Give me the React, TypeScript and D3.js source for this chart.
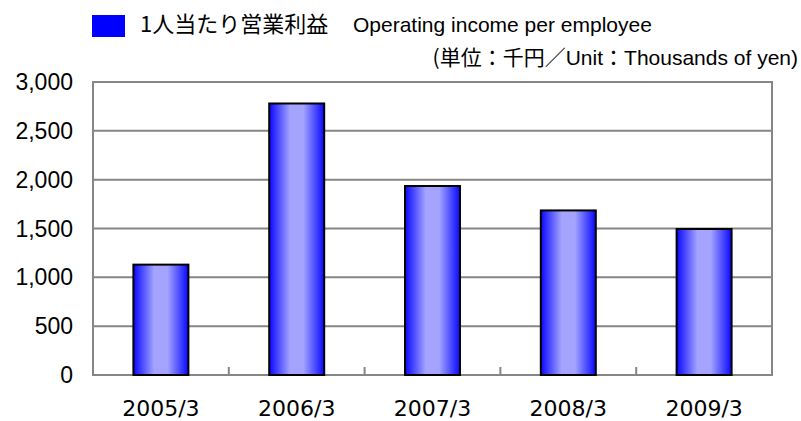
import React, { useEffect, useRef } from "react";
import * as d3 from "d3";

const categories = ["2005/3", "2006/3", "2007/3", "2008/3", "2009/3"];
const values = [1130, 2780, 1935, 1685, 1495];
const yTicks = [0, 500, 1000, 1500, 2000, 2500, 3000];

const W = 801;
const H = 421;
const margin = { top: 82, right: 29, bottom: 46, left: 93 };
const jp = "Noto Sans CJK JP, sans-serif";
const latin = "Liberation Sans, Arial, sans-serif";

const App = () => {
  const svgRef = useRef<SVGSVGElement>(null);

  useEffect(() => {
    const svg = d3.select(svgRef.current);
    svg.selectAll("*").remove();

    const width = W - margin.left - margin.right;
    const height = H - margin.top - margin.bottom;

    // bar gradient: blue edges, pale centre
    const grad = svg
      .append("defs")
      .append("linearGradient")
      .attr("id", "barGrad")
      .attr("x1", "0%")
      .attr("x2", "100%");
    grad.append("stop").attr("offset", "0%").attr("stop-color", "#0808ff");
    grad.append("stop").attr("offset", "38%").attr("stop-color", "#a4a4ff");
    grad.append("stop").attr("offset", "62%").attr("stop-color", "#a4a4ff");
    grad.append("stop").attr("offset", "100%").attr("stop-color", "#0808ff");

    const p = 1 - 55 / (width / categories.length);
    const x = d3
      .scaleBand()
      .domain(categories)
      .range([0, width])
      .paddingInner(p)
      .paddingOuter(p / 2);
    const y = d3.scaleLinear().domain([0, 3000]).range([height, 0]);

    const g = svg
      .append("g")
      .attr("transform", `translate(${margin.left},${margin.top})`);

    // gridlines
    g.selectAll(".grid")
      .data(yTicks)
      .enter()
      .append("line")
      .attr("x1", 0)
      .attr("x2", width)
      .attr("y1", (d) => y(d))
      .attr("y2", (d) => y(d))
      .attr("stroke", "#868686")
      .attr("stroke-width", 2);

    // plot frame
    g.append("rect")
      .attr("width", width)
      .attr("height", height)
      .attr("fill", "none")
      .attr("stroke", "#868686")
      .attr("stroke-width", 2);

    // category boundary ticks
    const step = x.step();
    g.selectAll(".tick")
      .data(categories.slice(1))
      .enter()
      .append("line")
      .attr("x1", (_, i) => (i + 1) * step)
      .attr("x2", (_, i) => (i + 1) * step)
      .attr("y1", height)
      .attr("y2", height - 8)
      .attr("stroke", "#868686")
      .attr("stroke-width", 2);

    // bars
    g.selectAll(".bar")
      .data(values)
      .enter()
      .append("rect")
      .attr("x", (_, i) => x(categories[i]) as number)
      .attr("width", x.bandwidth())
      .attr("y", (d) => y(d))
      .attr("height", (d) => height - y(d))
      .attr("fill", "url(#barGrad)")
      .attr("stroke", "#000")
      .attr("stroke-width", 2);

    // y labels
    g.selectAll(".ylab")
      .data(yTicks)
      .enter()
      .append("text")
      .attr("x", -20)
      .attr("y", (d) => y(d))
      .attr("dy", "0.35em")
      .attr("text-anchor", "end")
      .attr("font-family", latin)
      .attr("font-size", 23)
      .attr("fill", "#000")
      .text((d) => d3.format(",")(d));

    // x labels
    g.selectAll(".xlab")
      .data(categories)
      .enter()
      .append("text")
      .attr("x", (d) => (x(d) as number) + x.bandwidth() / 2)
      .attr("y", height + 41)
      .attr("text-anchor", "middle")
      .attr("font-family", "DejaVu Sans, sans-serif")
      .attr("font-size", 22)
      .attr("fill", "#000")
      .text((d) => d);

    // legend
    svg
      .append("rect")
      .attr("x", 92)
      .attr("y", 15)
      .attr("width", 33)
      .attr("height", 22)
      .attr("fill", "#0000ff");
    const leg = svg
      .append("text")
      .attr("y", 26)
      .attr("dy", "0.35em")
      .attr("fill", "#000");
    leg
      .append("tspan")
      .attr("x", 140)
      .attr("font-family", jp)
      .attr("font-size", 22)
      .text("1人当たり営業利益");
    leg
      .append("tspan")
      .attr("x", 353)
      .attr("font-family", latin)
      .attr("font-size", 21)
      .text("Operating income per employee");

    // unit note
    const unit = svg
      .append("text")
      .attr("x", 798)
      .attr("y", 59)
      .attr("dy", "0.35em")
      .attr("text-anchor", "end")
      .attr("fill", "#000");
    unit
      .append("tspan")
      .attr("font-family", jp)
      .attr("font-size", 21)
      .text("(単位：千円／");
    unit
      .append("tspan")
      .attr("font-family", latin)
      .attr("font-size", 21)
      .text("Unit");
    unit
      .append("tspan")
      .attr("font-family", jp)
      .attr("font-size", 21)
      .text("：");
    unit
      .append("tspan")
      .attr("font-family", latin)
      .attr("font-size", 21)
      .text("Thousands of yen)");
  }, []);

  return (
    <svg
      ref={svgRef}
      width={W}
      height={H}
      style={{ position: "absolute", left: 0, top: 0, background: "#fff" }}
    ></svg>
  );
};

export default App;
